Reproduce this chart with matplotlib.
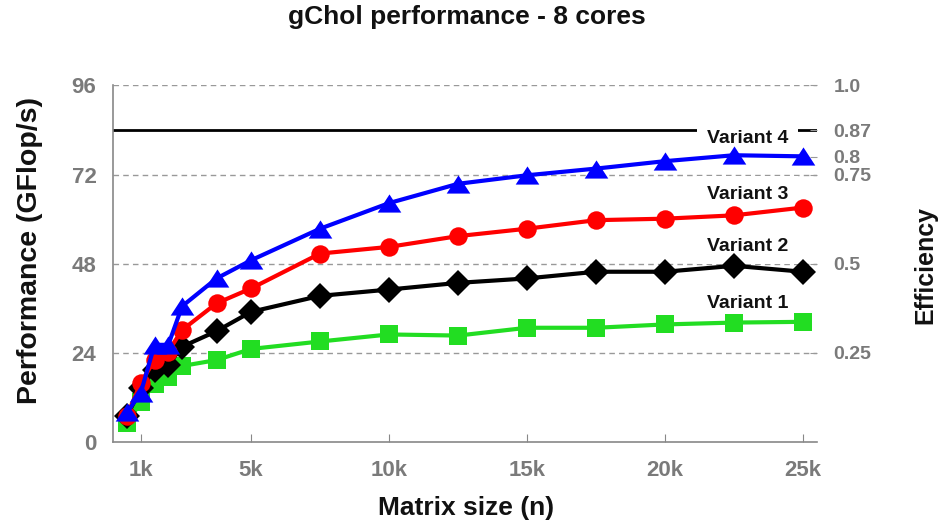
import matplotlib
matplotlib.use("Agg")
import matplotlib.pyplot as plt
from matplotlib.ticker import FixedLocator

# ------------------------------
# DATA (GFlop/s, 8 cores)
# ------------------------------

matrix_sizes = [500, 1000, 1500, 2000, 2500, 3750, 5000, 7500, 10000,
                12500, 15000, 17500, 20000, 22500, 25000]

variant1 = [5.0, 10.6, 15.6, 17.5, 20.4, 22.0, 25.0, 27.0, 28.9,
            28.6, 30.7, 30.7, 31.6, 32.1, 32.3]
variant2 = [6.8, 14.4, 19.4, 20.7, 25.6, 29.8, 35.0, 39.3, 41.0,
            42.8, 44.0, 45.8, 45.8, 47.4, 45.8]
variant3 = [7.0, 15.8, 22.0, 24.3, 30.1, 37.3, 41.3, 50.7, 52.5,
            55.4, 57.4, 59.7, 60.1, 61.0, 63.1]
variant4 = [7.9, 13.1, 26.1, 26.1, 36.5, 44.0, 48.9, 57.4, 64.3,
            69.5, 71.8, 73.6, 75.6, 77.2, 76.9]

y_max = 96          # axis top, efficiency 1.0
peak_gflops = 84    # best attainable, ~0.87 efficiency

x_ticks = [1000, 5000, 10000, 15000, 20000, 25000]
x_labels = ["1k", "5k", "10k", "15k", "20k", "25k"]
y_ticks = [0, 24, 48, 72, 96]
eff_ticks = [0.25, 0.5, 0.75, 0.8, peak_gflops / y_max, 1.0]
eff_labels = ["0.25", "0.5", "0.75", "0.8", "0.87", "1.0"]

labels = ["Variant 1", "Variant 2", "Variant 3", "Variant 4"]
label_y = [35.9, 51.5, 65.5, 80.6]

# ------------------------------
# STYLE
# ------------------------------

plt.rcParams["font.family"] = ["Liberation Sans", "DejaVu Sans"]
plt.rcParams["font.weight"] = "bold"
GRAY = "#7a7a7a"

fig = plt.figure(figsize=(9.38, 5.27), dpi=100)
ax = fig.add_axes([0.1206, 0.1619, 0.7501, 0.6759])

ax.set_xlim(0, 25500)
ax.set_ylim(0, y_max)

# dashed grid
for y in y_ticks[1:]:
    ax.axhline(y, color="#999999", lw=1, ls=(0, (4, 3)), zorder=0.5)

# peak line
ax.axhline(peak_gflops, color="black", lw=2, zorder=1)

ax.plot(matrix_sizes, variant1, color="#22dd22", lw=3, marker="s",
        ms=13, mec="#22dd22", mew=0, zorder=3)
ax.plot(matrix_sizes, variant2, color="black", lw=3, marker="D",
        ms=13.5, mec="black", mew=0, zorder=4)
ax.plot(matrix_sizes, variant3, color="red", lw=3, marker="o",
        ms=13.3, mec="red", mew=0, zorder=5)
tri = [(-1, -0.77), (1, -0.77), (0, 0.77)]
ax.plot(matrix_sizes, variant4, color="blue", lw=3, marker=tri,
        ms=17, mec="blue", mew=0, zorder=6)

for lab, y in zip(labels, label_y):
    ax.text(23000, y, lab, ha="center", va="baseline", fontsize=14,
            fontweight="bold", color="#111111", zorder=1.5,
            bbox=dict(boxstyle="square,pad=0.5", fc="white", ec="none"))

for side in ["top", "right"]:
    ax.spines[side].set_visible(False)
for side in ["left", "bottom"]:
    ax.spines[side].set_color("#888888")
    ax.spines[side].set_linewidth(1.2)

ax.set_xticks(x_ticks)
ax.set_xticklabels(x_labels)
ax.set_yticks(y_ticks)
ax.tick_params(axis="x", direction="in", length=6, color="#888888",
               labelsize=16, labelcolor=GRAY, pad=13)
ax.tick_params(axis="y", length=0, labelsize=16, labelcolor=GRAY, pad=12)

ax2 = ax.twinx()
ax2.set_ylim(0, 1)
ax2.yaxis.set_major_locator(FixedLocator(eff_ticks))
ax2.set_yticklabels(eff_labels)
ax2.tick_params(axis="y", direction="in", length=5, color="#999999",
                labelsize=14, labelcolor=GRAY, pad=12)
for side in ["top", "right", "left", "bottom"]:
    ax2.spines[side].set_visible(False)

fig.text(0.498, 1 - 17 / 527, "gChol performance - 8 cores", ha="center",
         va="center", fontsize=19, fontweight="bold", color="#111111")
fig.text(0.497, 1 - 508 / 527, "Matrix size (n)", ha="center", va="center",
         fontsize=19, fontweight="bold", color="#111111")
fig.text(30 / 938, 1 - 250 / 527, "Performance (GFlop/s)", ha="center",
         va="center", rotation=90, fontsize=20.5, fontweight="bold",
         color="#111111")
fig.text(925 / 938, 1 - 265 / 527, "Efficiency", ha="center", va="center",
         rotation=90, fontsize=18, fontweight="bold", color="#111111")

fig.savefig("out.png", dpi=100)
